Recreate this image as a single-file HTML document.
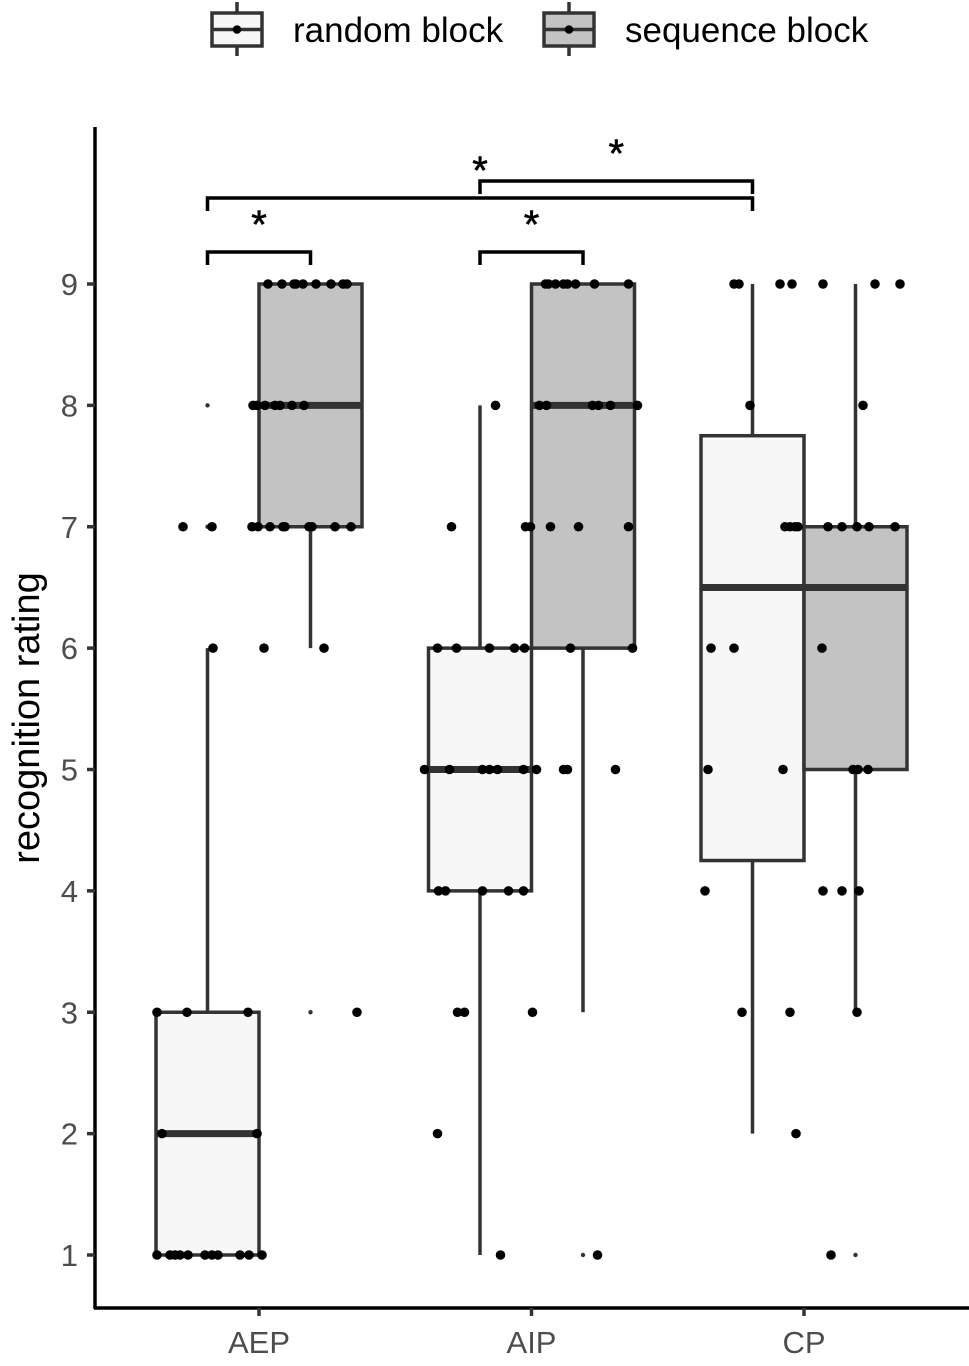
<!DOCTYPE html>
<html><head><meta charset="utf-8"><style>
html,body{margin:0;padding:0;background:#fff;}
svg{display:block;font-family:"Liberation Sans",sans-serif;}
</style></head><body>
<svg id="chart" width="969" height="1366" viewBox="0 0 969 1366" xmlns="http://www.w3.org/2000/svg"></svg>
<script>
const categories = ["AEP","AIP","CP"];
const groups = ["random block","sequence block"];
const yTicks = [1,2,3,4,5,6,7,8,9];
// box stats per category: [lowWhisker, q1, median, q3, highWhisker]
const randomStats = [[1,1,2,3,6],[1,4,5,6,8],[2,4.25,6.5,7.75,9]];
const sequenceStats = [[6,7,8,9,9],[3,6,8,9,9],[3,5,6.5,7,9]];
// outliers: [categoryIndex, groupIndex, value]
const outliers = [[0,0,8],[0,0,7],[0,1,3],[1,1,1],[2,1,1]];
// jittered raw points: values and jitter (in category units)
const pointValues = [
 [9,9,9,9,9,9,9,9,9, 8,8,8,8,8,8,8, 7,7,7,7,7,7,7,7,7,7,7, 6,6,6, 3,3,3,3, 2,2, 1,1,1,1,1,1,1,1,1,1,1],
 [9,9,9,9,9,9,9,9, 8,8,8,8,8,8,8, 7,7,7,7,7,7, 6,6,6,6,6,6,6, 5,5,5,5,5,5,5,5,5,5, 4,4,4,4,4, 3,3,3, 2, 1,1],
 [9,9,9,9,9,9,9, 8,8, 7,7,7,7,7,7,7,7,7, 6,6,6, 5,5,5,5,5, 4,4,4,4, 3,3,3, 2, 1]
];
const pointJitter = [
 [9,23,35,37,44,57,72,84,88, -6,-2,6,16,21,33,45, -76,-47,-7,-1,11,24,26,50,53,76,92, -46,5,65, -102,-72,-11,98, -97,-2, -102,-89,-84,-79,-71,-54,-47,-41,-19,-10,3],
 [14,17,24,32,36,44,63,97, -36,8,15,61,67,79,106, -80,-6,-1,19,47,97, -94,-75,-42,-17,-7,39,101, -107,-82,-49,-42,-34,-8,5,32,36,84, -93,-86,-49,-23,-8, -74,-67,1, -94, -31,66],
 [-70,-65,-24,-12,19,71,96, -54,59, -19,-14,-9,-6,24,38,53,65,91, -93,-70,18, -96,-21,49,54,64, -99,19,38,55, -62,-14,53, -8, 27]
].map(a=>a.map(v=>v/272));
// significance brackets: [fromCat, fromGroup, toCat, toGroup, level]
const brackets = [[0,0,0,1,0],[1,0,1,1,0],[0,0,2,0,2],[1,0,2,0,3]];

const NS="http://www.w3.org/2000/svg";
const svg=document.getElementById('chart');
const catStep=272.5, cat0=259;
const xCat=i=>cat0+i*catStep;
const dodge=51.5, halfW=51.5;
const xGrp=(c,g)=>xCat(c)+(g===0?-dodge:dodge);
const y=v=>1255-(v-1)*(1255-284)/8;
function el(tag,attrs,parent){const e=document.createElementNS(NS,tag);for(const k in attrs)e.setAttribute(k,attrs[k]);(parent||svg).appendChild(e);return e;}
const col="#333333";
[randomStats,sequenceStats].forEach((stats,g)=>{
 stats.forEach((s,c)=>{
  const gEl=el('g',{});
  
  
  const xc=xGrp(c,g);
  el('line',{x1:xc,x2:xc,y1:y(s[0]),y2:y(s[1]),stroke:col,'stroke-width':3.5},gEl);
  el('line',{x1:xc,x2:xc,y1:y(s[3]),y2:y(s[4]),stroke:col,'stroke-width':3.5},gEl);
  el('rect',{x:xc-halfW,y:y(s[3]),width:2*halfW,height:y(s[1])-y(s[3]),fill:g===0?'#f7f7f7':'#c3c3c3',stroke:col,'stroke-width':3.5},gEl);
  el('line',{x1:xc-halfW,x2:xc+halfW,y1:y(s[2]),y2:y(s[2]),stroke:col,'stroke-width':7},gEl);
 });
});
outliers.forEach(o=>{
 const c=el('circle',{cx:xGrp(o[0],o[1]),cy:y(o[2]),r:2.2,fill:col});
 
 
});
pointValues.forEach((vals,c)=>{
 vals.forEach((v,i)=>{
  const p=el('circle',{cx:xCat(c)+pointJitter[c][i]*272,cy:y(v),r:4.8,fill:'#000'});
  
  
 });
});
const bracketY=[252,0,198,181];
brackets.forEach(b=>{
 const x1=xGrp(b[0],b[1]), x2=xGrp(b[2],b[3]), by=bracketY[b[4]];
 const g=el('g',{});
 
 
 el('path',{d:`M${x1},${by+13}V${by}H${x2}V${by+13}`,fill:'none',stroke:'#000','stroke-width':3.5},g);
 const t=el('text',{x:(x1+x2)/2,y:by-14,'text-anchor':'middle','font-size':40,fill:'#000','stroke':'#000','stroke-width':0.6},g);
 t.textContent='*';
});
const ax=el('g',{});


el('line',{x1:95,x2:95,y1:127,y2:1309,stroke:'#000','stroke-width':3.5},ax);
el('line',{x1:94,x2:969,y1:1308,y2:1308,stroke:'#000','stroke-width':3.5},ax);
yTicks.forEach(v=>{
 el('line',{x1:87,x2:95,y1:y(v),y2:y(v),stroke:'#333','stroke-width':3.5},ax);
 const t=el('text',{x:78,y:y(v)+11,'text-anchor':'end','font-size':31,fill:'#4d4d4d'},ax);
 
 
 t.textContent=v;
});
categories.forEach((c,i)=>{
 el('line',{x1:xCat(i),x2:xCat(i),y1:1308,y2:1316,stroke:'#333','stroke-width':3.5},ax);
 const t=el('text',{x:xCat(i),y:1353,'text-anchor':'middle','font-size':31,fill:'#4d4d4d'},ax);
 
 
 t.textContent=c;
});
const yl=el('text',{x:0,y:0,transform:'translate(39,718) rotate(-90)','text-anchor':'middle','font-size':38,fill:'#000'});


yl.textContent='recognition rating';
const legendX=[[212,293],[544,625]];
groups.forEach((gname,g)=>{
 const lg=el('g',{});
 
 
 const kx=legendX[g][0];
 el('line',{x1:kx+25,x2:kx+25,y1:2,y2:56,stroke:col,'stroke-width':3.5},lg);
 el('rect',{x:kx,y:13,width:50,height:33,fill:g===0?'#f7f7f7':'#c3c3c3',stroke:col,'stroke-width':3.5},lg);
 el('line',{x1:kx,x2:kx+50,y1:29.5,y2:29.5,stroke:col,'stroke-width':3.5},lg);
 el('circle',{cx:kx+25,cy:29.5,r:4.3,fill:'#000'},lg);
 const t=el('text',{x:legendX[g][1],y:42,'font-size':35,fill:'#000'},lg);
 t.textContent=gname;
});
</script>
</body></html>
